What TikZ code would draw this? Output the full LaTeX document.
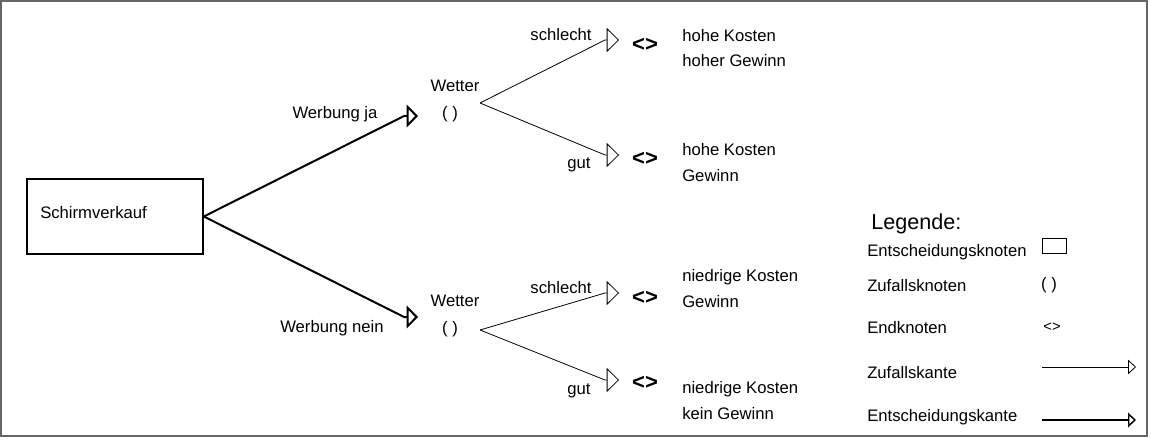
\documentclass[tikz,border=0pt]{standalone}
\usepackage{fontspec}
\setmainfont{Liberation Sans}
\usetikzlibrary{arrows.meta}

\begin{document}
\begin{tikzpicture}[x=0.75pt,y=-0.75pt,
  every node/.style={inner sep=0pt,font=\fontsize{12.5}{19.3}\selectfont},
  entkante/.style={line width=1.5pt,-{Triangle[open,length=8.5pt,width=17pt]}},
  zufkante/.style={line width=0.6pt,-{Triangle[open,length=9.2pt,width=18pt]}},
  endknoten/.style={font=\fontsize{16.5}{18}\selectfont\bfseries},
  legkante/.style={line width=0.6pt,-{Triangle[open,length=6pt,width=11pt]}},
  legentkante/.style={line width=1.1pt,-{Triangle[open,length=6pt,width=11pt]}}]
\useasboundingbox (0,0) rectangle (1151,442);
\draw[black!60,line width=1.2pt] (1,1) rectangle (1147,436);
\node[draw,line width=1.2pt,minimum width=132pt,minimum height=56.25pt] (dec) at (115,216.5) {};
\node[anchor=base west] (dectext) at (40,218) {Schirmverkauf};
\coordinate (wja) at (404,116);
\coordinate (wjat) at (418,116);
\coordinate (wnein) at (404,317);
\coordinate (wneint) at (418,317);
\draw[entkante] (dec.east) -- (wja) -- (wjat);
\draw[entkante] (dec.east) -- (wnein) -- (wneint);
\node[anchor=base] (lja) at (335,118) {Werbung ja};
\node[anchor=base] (lnein) at (332,332) {Werbung nein};
\node[anchor=base] (wetter1) at (455,92) {Wetter};
\node[anchor=base] (zuf1) at (450,118) {( )};
\node[anchor=base] (wetter2) at (455,306) {Wetter};
\node[anchor=base] (zuf2) at (450,333) {( )};
\coordinate (z1) at (480,103);
\coordinate (z2) at (480,330);
\coordinate (s1) at (605,40);
\coordinate (s1t) at (619,40);
\coordinate (g1) at (605,155);
\coordinate (g1t) at (619,155);
\coordinate (s2) at (605,293);
\coordinate (s2t) at (619,293);
\coordinate (g2) at (605,380);
\coordinate (g2t) at (619,380);
\draw[zufkante] (z1) -- (s1) -- (s1t);
\draw[zufkante] (z1) -- (g1) -- (g1t);
\draw[zufkante] (z2) -- (s2) -- (s2t);
\draw[zufkante] (z2) -- (g2) -- (g2t);
\node[anchor=base] (ls1) at (561,41) {schlecht};
\node[anchor=base] (lg1) at (579,168) {gut};
\node[anchor=base] (ls2) at (561,293) {schlecht};
\node[anchor=base] (lg2) at (579,394) {gut};
\node[endknoten] (end1) at (645,45) {<>};
\node[endknoten] (end2) at (645,159) {<>};
\node[endknoten] (end3) at (645,298) {<>};
\node[endknoten] (end4) at (645,383) {<>};
\node[anchor=base west,align=left] (erg1) at (682,67) {hohe Kosten\\hoher Gewinn};
\node[anchor=base west,align=left] (erg2) at (682,181) {hohe Kosten\\Gewinn};
\node[anchor=base west,align=left] (erg3) at (682,307) {niedrige Kosten\\Gewinn};
\node[anchor=base west,align=left] (erg4) at (682,419) {niedrige Kosten\\kein Gewinn};
\node[anchor=base west,font=\fontsize{16.2}{19}\selectfont] (leg) at (871,229) {Legende:};
\node[anchor=base west] (leg1) at (867,256) {Entscheidungsknoten};
\node[anchor=base west] (leg2) at (867,291) {Zufallsknoten};
\node[anchor=base west] (leg3) at (867,333) {Endknoten};
\node[anchor=base west] (leg4) at (867,378) {Zufallskante};
\node[anchor=base west] (leg5) at (867,421) {Entscheidungskante};
\node[draw,line width=0.75pt,minimum width=18pt,minimum height=11.25pt] (legbox) at (1054,245.5) {};
\node (legzuf) at (1049,285) {( )};
\node[font=\fontsize{11}{13}\selectfont] (legend) at (1052,327) {<>};
\coordinate (lz) at (1042,367);
\coordinate (lzt) at (1136,367);
\coordinate (le) at (1042,420);
\coordinate (let) at (1136,420);
\draw[legkante] (lz) -- (lzt);
\draw[legentkante] (le) -- (let);
\end{tikzpicture}
\end{document}
